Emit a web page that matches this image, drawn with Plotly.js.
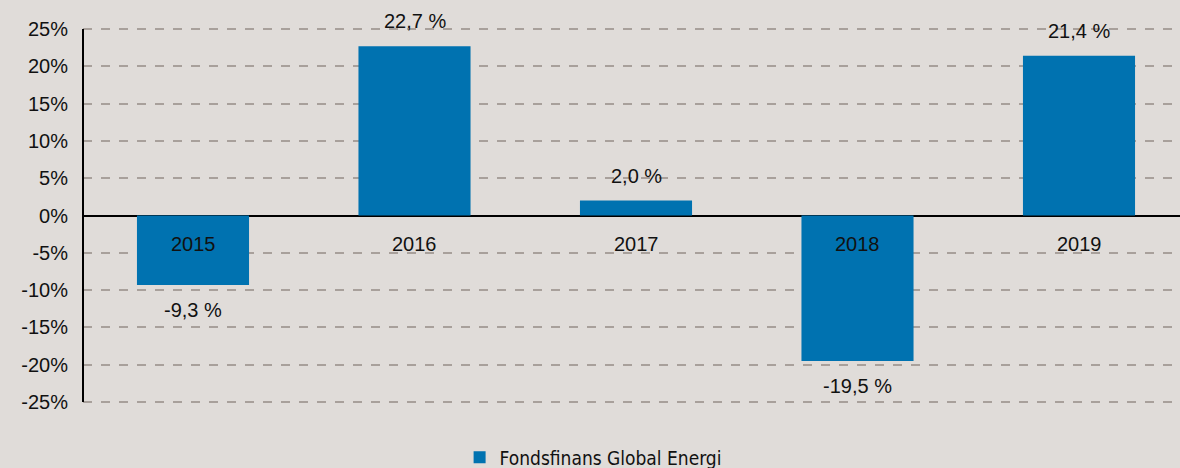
<!DOCTYPE html>
<html>
<head>
<meta charset="utf-8">
<script src="https://cdn.plot.ly/plotly-3.0.1.min.js"></script>
<style>html,body{margin:0;padding:0;background:#E0DCD9;}</style>
</head>
<body>
<div id="chart" style="width:1180px;height:468px;"></div>
<script>
const categories = ["2015", "2016", "2017", "2018", "2019"];
const values = [-9.3, 22.7, 2.0, -19.5, 21.4];
const valueLabels = ["-9,3 %", "22,7 %", "2,0 %", "-19,5 %", "21,4 %"];
const tickVals = [-25, -20, -15, -10, -5, 0, 5, 10, 15, 20, 25];
const tickText = ["-25%", "-20%", "-15%", "-10%", "-5%", "0%", "5%", "10%", "15%", "20%", "25%"];
const seriesName = "Fondsfinans Global Energi";

const xIdx = categories.map((c, i) => i);
const font = {family: "Liberation Sans, Arial, sans-serif", size: 20, color: "#111111"};

const annotations = [];
values.forEach((v, i) => {
  annotations.push({
    x: i, y: v, xref: "x", yref: "y", text: valueLabels[i], showarrow: false,
    yanchor: "middle", yshift: v >= 0 ? 25 : -25, font: font
  });
  annotations.push({
    x: i, y: 0, xref: "x", yref: "y", text: categories[i], showarrow: false,
    yanchor: "middle", yshift: -28, font: font
  });
});

const trace = {
  type: "bar", x: xIdx, y: values, name: seriesName,
  marker: {color: "#0072B0"}, width: 0.506, hoverinfo: "none", showlegend: true
};

const layout = {
  width: 1180, height: 468,
  paper_bgcolor: "#E0DCD9", plot_bgcolor: "#E0DCD9",
  margin: {l: 83, r: 0, t: 26, b: 63, autoexpand: false},
  font: font,
  showlegend: true,
  legend: {orientation: "h", x: 0.465, xanchor: "center", y: -0.138, yanchor: "middle",
    font: {family: "DejaVu Sans Condensed, sans-serif", size: 19, color: "#111"},
    itemwidth: 30, bgcolor: "rgba(0,0,0,0)"},
  xaxis: {range: [-0.4966, 4.456], showticklabels: false, showgrid: false, zeroline: false,
    ticks: "", fixedrange: true},
  yaxis: {range: [-25.4, 25.4], tickvals: tickVals, ticktext: tickText, showgrid: true,
    gridcolor: "#A8A09B", griddash: "dash", gridwidth: 2,
    zeroline: true, zerolinecolor: "#000", zerolinewidth: 2,
    showline: false, ticks: "", ticklabelstandoff: 14,
    tickfont: font},
  shapes: [{type: "line", xref: "paper", yref: "y", x0: 0, x1: 0, y0: -25, y1: 25,
    line: {color: "#000", width: 2}}],
  annotations: annotations
};

Plotly.newPlot("chart", [trace], layout, {staticPlot: true, displayModeBar: false});
</script>
</body>
</html>
